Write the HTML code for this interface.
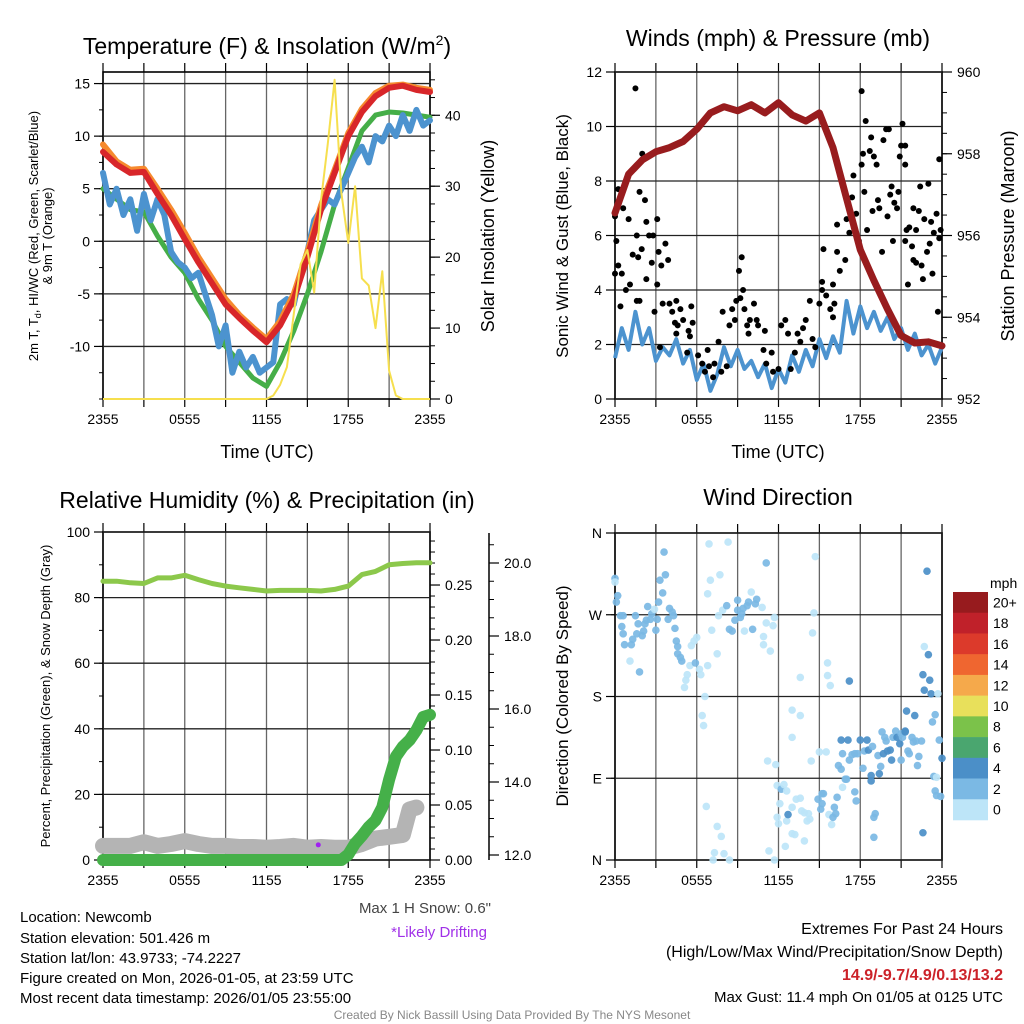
<!DOCTYPE html>
<html><head><meta charset="utf-8">
<style>
html,body{margin:0;padding:0;background:#fff;}
svg{display:block;font-family:"Liberation Sans",Arial,sans-serif;}
</style></head>
<body>
<svg id="fig" width="1024" height="1024" viewBox="0 0 1024 1024" xmlns="http://www.w3.org/2000/svg">
<rect width="1024" height="1024" fill="#fff"/>
<g id="layer"></g>
<text x="267" y="54" font-size="23" text-anchor="middle">Temperature (F) &amp; Insolation (W/m<tspan dy="-9" font-size="14">2</tspan><tspan dy="9">)</tspan></text>
<text x="778" y="46" font-size="23" text-anchor="middle">Winds (mph) &amp; Pressure (mb)</text>
<text x="267" y="508" font-size="23" text-anchor="middle">Relative Humidity (%) &amp; Precipitation (in)</text>
<text x="778" y="505" font-size="23" text-anchor="middle">Wind Direction</text>
<text transform="translate(38,236) rotate(-90)" font-size="13" text-anchor="middle">2m T, T<tspan dy="3" font-size="9">d</tspan><tspan dy="-3">, HI/WC (Red, Green, Scarlet/Blue)</tspan></text>
<text transform="translate(52,236) rotate(-90)" font-size="13" text-anchor="middle">&amp; 9m T (Orange)</text>
<text transform="translate(494,236) rotate(-90)" font-size="18" text-anchor="middle">Solar Insolation (Yellow)</text>
<text transform="translate(568,236) rotate(-90)" font-size="17" text-anchor="middle">Sonic Wind &amp; Gust (Blue, Black)</text>
<text transform="translate(1014,236) rotate(-90)" font-size="18" text-anchor="middle">Station Pressure (Maroon)</text>
<text transform="translate(50,696) rotate(-90)" font-size="13" text-anchor="middle">Percent, Precipitation (Green), &amp; Snow Depth (Gray)</text>
<text transform="translate(568,696) rotate(-90)" font-size="17" text-anchor="middle">Direction (Colored By Speed)</text>
<text x="267" y="458" font-size="18" text-anchor="middle">Time (UTC)</text>
<text x="778" y="458" font-size="18" text-anchor="middle">Time (UTC)</text>
<text x="491" y="913" font-size="15" fill="#444" text-anchor="end">Max 1 H Snow: 0.6"</text>
<text x="487" y="937" font-size="15" fill="#a030e8" text-anchor="end">*Likely Drifting</text>
<g font-size="15">
<text x="20" y="922">Location: Newcomb</text>
<text x="20" y="943">Station elevation: 501.426 m</text>
<text x="20" y="963">Station lat/lon: 43.9733; -74.2227</text>
<text x="20" y="983">Figure created on Mon, 2026-01-05, at 23:59 UTC</text>
<text x="20" y="1003">Most recent data timestamp: 2026/01/05 23:55:00</text>
</g>
<g font-size="16" text-anchor="end">
<text x="1003" y="934">Extremes For Past 24 Hours</text>
<text x="1003" y="957">(High/Low/Max Wind/Precipitation/Snow Depth)</text>
<text x="1003" y="980" fill="#cc2229" font-weight="bold">14.9/-9.7/4.9/0.13/13.2</text>
<text x="1003" y="1002" font-size="15">Max Gust: 11.4 mph On 01/05 at 0125 UTC</text>
</g>
<text x="512" y="1019" font-size="12" fill="#888" text-anchor="middle">Created By Nick Bassill Using Data Provided By The NYS Mesonet</text>
</svg>
<script>
// ---------- data ----------
const xTickLabels = ["2355","0555","1155","1755","2355"];
const hourly = [0,1,2,3,4,5,6,7,8,9,10,11,12,13,14,15,16,17,18,19,20,21,22,23,24];
const tempRed = [8.5,7.3,6.5,6.6,4.5,2.5,0.2,-2,-4,-6,-7.3,-8.5,-9.6,-8,-5.5,-1.5,3,6.5,10,12.3,13.8,14.6,14.8,14.4,14.2];
const tempOrange = [9.2,7.6,6.8,6.9,5,3,0.8,-1.5,-3.5,-5.5,-7,-8.2,-9.3,-7.6,-5,-1,3.4,6.8,10.3,12.6,14.1,14.8,14.9,14.6,14.4];
const tempGreen = [5,4,3,2.8,0.5,-1.5,-3,-5.5,-7.5,-10,-11.5,-13,-13.8,-11.5,-8.5,-5,-1,3.5,7,10.5,12,12.3,12.2,12,11.8];
const halfHourly = [0,0.5,1,1.5,2,2.5,3,3.5,4,4.5,5,5.5,6,6.5,7,7.5,8,8.5,9,9.5,10,10.5,11,11.5,12,12.5,13,13.5,14,14.5,15,15.5,16,16.5,17,17.5,18,18.5,19,19.5,20,20.5,21,21.5,22,22.5,23,23.5,24];
const tempBlue = [6.5,3.5,5,2.5,4,1,4.5,2,4,2.5,-1,-2,-2.5,-3.5,-3,-5,-7,-10,-8,-12.5,-10.5,-12,-11,-12.5,-12,-11.5,-6,-5.5,-6,-3,-1,2,3,4,3.5,5,6.5,8,9,7.5,10,9.5,11,10,12,10.5,12.5,11,11.5];
const insolation = [0,0,0,0,0,0,0,0,0,0,0,0,0,0,0,0,0,0,0,0,0,0,0,0,0,0.5,2,4.5,12,19,21,15,28,36,45,29,22,30,17,16,10,18,4,0.5,0,0,0,0,0];
const tempTicks = [-10,-5,0,5,10,15];
const insolTicks = [0,10,20,30,40];

const pressure = [956.55,957.5,957.85,958.05,958.15,958.3,958.6,959.0,959.15,959.05,959.2,959.0,959.25,958.95,958.8,959.0,958.15,956.9,955.65,954.9,954.2,953.55,953.37,953.4,953.3];
const windSpeed = [1.5,2.6,1.8,3.2,2.0,2.6,1.4,1.9,1.6,2.2,1.3,1.8,0.7,1.3,0.3,0.9,1.9,1.2,1.8,1.1,1.4,0.8,1.3,0.4,1.1,0.6,1.6,1.0,1.8,1.2,2.2,1.5,2.3,1.7,3.6,2.4,3.4,2.6,3.2,2.5,3.0,2.2,2.6,1.8,2.4,1.6,2.0,1.3,1.9];
const gustHour = [1.5,0,0.1,0,0.24,0.5,0.6,0.24,1,0.4,1.1,0.8,1.3,1.6,1.7,1.96,2,1.8,2.2,2.3,2.3,2.5,2.7,2.8,3.1,3.2,3.4,3.7,3.9,3.1,1.6,1.8,2.9,3.3,3.5,4,4.2,4.5,4.8,4.4,4.6,4.5,5,5.6,5.4,5.7,5.5,5.3,6.1,6.4,6.6,6.8,6.9,7.3,7.6,7.2,7.8,7.9,8.2,8.4,8.6,8.8,8.9,9.2,9.4,9.1,9.3,9.5,9.7,9.9,9.8,10.2,10.4,10.5,10.9,11,11.1,11.5,11.6,12,12.2,12.5,12.7,12.9,13.2,13.4,13.6,13.8,14,14.3,14.5,14.7,15,15.2,15.2,15.3,15.5,15.8,16,16.1,16,16.3,16.3,16.5,16.9,17,17.2,17.4,17.5,17.7,17.9,18.1,18.1,18.2,18.3,18.4,18.5,18.7,18.8,18.9,19,19.2,19.3,19.4,19.6,19.7,19.9,20,20.1,20.2,20.3,20.4,20.5,20.7,20.8,20.9,21.1,21,21.3,21.3,21.3,21.4,21.5,21.6,21.8,21.9,21.9,22.1,22.1,22.3,22.4,22.5,22.6,22.7,22.9,23,23.1,23.2,23.3,23.4,23.6,23.7,23.8,23.9,23.8];
const gustSpeed = [11.4,6.7,5.8,4.6,4.9,4.6,7.0,7.7,6.6,3.4,4.2,4.0,5.3,6.0,5.2,5.5,9.0,7.6,7.3,6.5,4.4,6.0,5.0,6.0,6.6,5.4,4.9,5.7,5.1,4.2,3.6,3.6,3.2,1.9,3.5,3.5,3.2,3.6,3.3,2.8,2.7,2.4,2.9,3.4,2.5,2.8,2.3,1.7,1.6,1.3,1.0,1.8,1.2,1.3,2.1,0.8,1.0,3.2,1.2,2.7,3.3,2.9,3.6,3.7,4.0,4.7,5.2,3.3,2.7,2.9,2.4,3.5,2.9,2.7,1.8,2.5,1.3,1.7,1.0,1.1,2.7,2.9,2.4,1.1,1.7,2.4,2.1,2.6,2.9,3.6,2.2,1.9,3.5,4.3,4.0,5.5,3.8,3.3,4.2,3.5,3.0,5.4,6.4,4.7,5.1,6.6,6.1,7.4,8.2,6.8,5.8,8.6,11.3,9.0,7.6,10.2,6.2,9.1,9.6,6.9,8.9,8.6,7.3,7.0,5.4,9.5,9.9,6.7,9.9,7.5,7.8,5.8,7.2,7.0,7.6,8.9,10.1,9.3,9.3,8.6,5.8,6.2,4.2,6.3,5.6,7.0,5.1,6.2,5.0,6.9,7.8,4.9,4.4,6.6,5.4,7.9,5.7,6.5,4.6,6.1,6.8,3.2,8.8,6.2,5.9];
const windTicks = [0,2,4,6,8,10,12];
const pressTicks = [952,954,956,958,960];

const rhValues = [85,85,84.5,84.3,86,86,86.8,85.5,84.3,83.5,83,82.5,82,82.2,82.2,82.2,82,82.5,83.5,87,88,90,90.4,90.6,90.6];
const precip = [0,0,0,0,0,0,0,0,0,0,0,0,0,0,0,0,0,0,0,0,0,0,0,0,0,0,0,0,0,0,0,0,0,0,0,0,0.005,0.015,0.022,0.03,0.036,0.048,0.073,0.094,0.103,0.109,0.118,0.13,0.132];
const snowHour = [0,1,2,3,4,5,6,7,8,9,10,11,12,13,14,15,16,17,18,19,20,21,22,22.5,23];
const snowDepth = [12.25,12.25,12.25,12.35,12.25,12.3,12.38,12.3,12.25,12.25,12.22,12.22,12.2,12.22,12.25,12.2,12.22,12.2,12.2,12.3,12.45,12.5,12.55,13.25,13.3];
const driftHour = [15.8];
const driftDepth = [12.25];
const rhTicks = [0,20,40,60,80,100];
const precipTicks = ["0.00","0.05","0.10","0.15","0.20","0.25"];
const snowTicks = ["12.0","14.0","16.0","18.0","20.0"];

const dirHour = [0.0,0.0,0.2,0.1,0.4,0.6,0.5,0.6,0.7,1.1,1.2,1.3,1.5,1.6,1.8,1.7,2.0,2.1,2.2,2.3,2.4,2.6,2.7,2.9,3.0,3.2,3.1,3.3,3.5,3.7,3.6,3.9,4.0,4.2,4.3,4.4,4.5,4.6,4.6,4.8,4.9,5.1,5.2,5.3,5.5,5.6,5.8,6.0,5.9,6.2,6.3,6.6,6.4,6.5,6.8,6.8,7.0,7.1,7.5,7.7,6.9,8.3,7.6,7.9,8.2,8.4,8.6,8.8,9.0,9.0,9.2,9.3,9.4,9.5,9.7,9.8,10.0,10.1,10.3,10.4,10.8,10.9,10.9,11.1,11.1,11.4,11.6,11.7,6.7,7.5,7.8,7.3,7.2,8.0,8.4,11.2,11.8,11.9,12.2,12.4,12.6,12.1,11.9,12.0,12.6,12.7,13.0,13.0,13.6,13.0,13.3,13.6,13.7,13.9,14.2,14.1,14.3,13.0,13.2,13.9,12.5,11.3,11.7,13.6,14.4,14.7,14.6,14.5,15.0,15.5,14.9,15.2,15.3,15.2,15.1,15.6,15.6,15.8,15.7,15.9,16.0,16.2,16.1,16.3,16.4,16.6,16.7,16.6,16.9,17.0,16.7,17.1,17.2,17.2,17.4,17.6,17.7,17.6,17.8,18.0,18.2,18.3,18.5,18.6,18.8,18.8,18.9,19.0,19.1,19.0,19.4,19.5,19.3,19.6,19.7,19.8,19.9,20.0,20.2,20.3,20.4,20.6,20.7,20.9,21.0,21.0,21.1,21.3,21.3,21.4,21.5,21.6,21.8,21.9,22.0,22.1,22.2,22.3,22.5,22.6,22.6,22.7,22.7,22.9,23.0,23.1,23.2,23.3,23.5,23.4,23.6,23.5,23.6,23.7,23.8,23.9,24.0];
const dirDeg = [310,306,291,284,269,269,257,249,237,219,237,243,269,249,207,260,247,252,260,264,279,265,271,276,253,284,265,308,294,314,339,265,277,273,269,255,241,235,227,223,219,190,198,204,214,236,241,245,217,210,204,180,159,148,214,293,308,253,227,314,348,350,269,275,280,254,252,264,286,275,267,271,277,252,280,284,295,254,282,287,278,246,237,261,327,230,258,267,59,37,26,8,0,7,0,109,105,82,78,83,76,62,47,40,43,50,135,165,159,58,67,68,54,52,51,43,45,29,28,21,15,10,0,201,109,334,272,250,119,119,67,73,73,62,56,217,203,192,50,39,47,51,58,69,104,100,117,132,89,89,80,132,197,110,116,75,65,117,117,132,101,120,132,121,93,87,125,47,51,25,95,103,115,141,117,135,131,120,121,110,135,142,135,128,110,139,135,142,141,164,120,117,135,130,159,131,104,114,131,30,204,235,187,318,226,198,183,152,160,92,91,76,71,183,132,70,112];
const dirSpeed = [3,1,3,3,3,3,3,3,3,1,3,3,3,3,3,3,3,3,3,3,3,3,3,1,3,3,3,3,3,3,3,3,3,3,3,3,3,3,3,3,3,1,1,1,1,1,1,1,3,1,1,1,1,1,1,1,1,1,1,1,1,1,1,1,3,3,3,3,3,3,3,3,3,1,3,3,1,3,3,3,1,1,1,1,3,1,1,1,1,1,1,1,1,1,1,1,1,1,3,1,1,1,1,1,1,5,1,1,1,1,1,1,1,1,1,1,1,1,1,1,1,1,1,1,1,1,1,1,1,1,3,3,3,3,3,1,1,1,1,1,3,3,3,3,3,3,3,5,3,3,1,5,5,3,3,3,3,3,3,5,3,3,5,5,5,5,3,3,3,3,5,3,3,3,5,3,3,5,5,5,3,3,5,5,3,3,3,5,5,5,3,3,3,3,5,3,3,3,3,5,5,1,5,5,5,5,5,3,3,3,1,3,3,1,3,3,5];
const dirLabels = ["N","E","S","W","N"];
const speedLabels = ["20+","18","16","14","12","10","8","6","4","2","0"];
const speedColors = ["#971b1e","#c0212a","#dc3a2b","#ef6630","#f5a94b","#e8e05b","#7bc24a","#4aa66f","#4b8fc8","#7bb9e4","#bde5f8"];

// ---------- helpers ----------
const NS = "http://www.w3.org/2000/svg";
const layer = document.getElementById("layer");
function mk(tag, attrs, parent){
  const e = document.createElementNS(NS, tag);
  for (const k in attrs) e.setAttribute(k, attrs[k]);
  (parent||layer).appendChild(e);
  return e;
}
function lin(d0,d1,r0,r1){ return v => r0 + (v-d0)*(r1-r0)/(d1-d0); }
function pathD(xs, ys, sx, sy){
  let d = "";
  for (let i=0;i<xs.length;i++){ d += (i?"L":"M") + sx(xs[i]).toFixed(1) + "," + sy(ys[i]).toFixed(1); }
  return d;
}

function frame(P, name){
  const g = mk("g", {});
  
  
  for (let h=0; h<=24; h+=3){
    const x = P.sx(h);
    const gl = mk("line", {x1:x,x2:x,y1:P.y0,y2:P.y1,stroke:"#666","stroke-width":1.3}, g);
    
    
    mk("line", {x1:x,x2:x,y1:P.y1,y2:P.y1+8,stroke:"#000","stroke-width":1.2}, g);
    mk("line", {x1:x,x2:x,y1:P.y0,y2:P.y0-9,stroke:"#000","stroke-width":1.2}, g);
  }
  xTickLabels.forEach((lab,i)=>{
    const t = mk("text", {x:P.sx(i*6), y:P.y1+25, "font-size":14, "text-anchor":"middle"}, g);
    t.textContent = lab;
    
    
  });
  mk("rect", {x:P.x0,y:P.y0,width:P.x1-P.x0,height:P.y1-P.y0,fill:"none",stroke:"#000","stroke-width":1.6}, g);
  return g;
}
function leftAxis(P, ticks, labels, sy, minorStep, name, hgrid){
  const g = mk("g", {});
  
  
  const lo = sy.d0, hi = sy.d1;
  for (let v=lo; v<=hi+1e-9; v+=minorStep){
    const y = sy(v);
    if (y < P.y0-0.5 || y > P.y1+0.5) continue;
    mk("line", {x1:P.x0-4,x2:P.x0,y1:y,y2:y,stroke:"#000","stroke-width":1}, g);
  }
  ticks.forEach((v,i)=>{
    const y = sy(v);
    if (hgrid) { const l = mk("line", {x1:P.x0,x2:P.x1,y1:y,y2:y,stroke:"#222","stroke-width":1.3}, g);
        }
    mk("line", {x1:P.x0-9,x2:P.x0,y1:y,y2:y,stroke:"#000","stroke-width":1.2}, g);
    const t = mk("text", {x:P.x0-13, y:y+5, "font-size":14, "text-anchor":"end"}, g);
    t.textContent = labels ? labels[i] : v;
    
    
  });
}
function rightAxis(xa, P, ticks, labels, sy, minorStep, name, lo, hi){
  const g = mk("g", {});
  
  
  for (let v=lo; v<=hi+1e-9; v+=minorStep){
    const y = sy(v);
    if (y < P.y0-0.5 || y > P.y1+0.5) continue;
    mk("line", {x1:xa,x2:xa+5,y1:y,y2:y,stroke:"#000","stroke-width":1}, g);
  }
  ticks.forEach((v,i)=>{
    const y = sy(+v);
    mk("line", {x1:xa,x2:xa+10,y1:y,y2:y,stroke:"#000","stroke-width":1.2}, g);
    const t = mk("text", {x:xa+15, y:y+5, "font-size":14}, g);
    t.textContent = labels ? labels[i] : v;
    
    
  });
}
function scaleY(d0,d1,r0,r1){ const f = lin(d0,d1,r0,r1); f.d0=d0; f.d1=d1; return f; }

// ---------- panel 1: temperature ----------
const P1 = {x0:103,x1:430,y0:72,y1:399};
P1.sx = lin(0,24,P1.x0,P1.x1);
const t1 = scaleY(-15,16.1,399,72);
const ins1 = scaleY(0,46.1,399,72);
frame(P1, "temperature");
leftAxis(P1, tempTicks, null, t1, 2.5, "temperature-y-axis", true);
rightAxis(P1.x1, P1, insolTicks, null, ins1, 2.5, "insolation-y-axis", 0, 45);
[[tempGreen,"#45ae48",5,"dewpoint-line",hourly],[tempBlue,"#4c93cf",6,"wind-chill-line",halfHourly],[tempOrange,"#f68a2e",6,"temp-9m-line",hourly],[tempRed,"#d8262a",6,"temp-2m-line",hourly]].forEach(s=>{
  const p = mk("path", {d:pathD(s[4], s[0], P1.sx, t1), fill:"none", stroke:s[1], "stroke-width":s[2], "stroke-linejoin":"round", "stroke-linecap":"round"});
  
  
});
const yl = mk("path", {d:pathD(halfHourly, insolation, P1.sx, ins1), fill:"none", stroke:"#f6df4e", "stroke-width":2, "stroke-linejoin":"round"});



// ---------- panel 2: winds ----------
const P2 = {x0:615,x1:942,y0:72,y1:399};
P2.sx = lin(0,24,P2.x0,P2.x1);
const w2 = scaleY(0,12,399,72);
const p2 = scaleY(952,960,399,72);
frame(P2, "winds");
leftAxis(P2, windTicks, null, w2, 12, "wind-y-axis", true);
rightAxis(P2.x1, P2, pressTicks, null, p2, 0.5, "pressure-y-axis", 952, 960);
const wl = mk("path", {d:pathD(halfHourly, windSpeed, P2.sx, w2), fill:"none", stroke:"#4c93cf", "stroke-width":4, "stroke-linejoin":"round"});


gustHour.forEach((h,i)=>{
  const c = mk("circle", {cx:P2.sx(h), cy:w2(gustSpeed[i]), r:3, fill:"#000"});
  
  
});
const pl = mk("path", {d:pathD(hourly, pressure, P2.sx, p2), fill:"none", stroke:"#981c1e", "stroke-width":7, "stroke-linejoin":"round", "stroke-linecap":"round"});



// ---------- panel 3: humidity ----------
const P3 = {x0:103,x1:430,y0:532,y1:860};
P3.sx = lin(0,24,P3.x0,P3.x1);
const rh3 = scaleY(0,100,860,532);
const pr3 = scaleY(0,0.2982,860,532);
const sn3 = scaleY(12,20,855,563);
frame(P3, "humidity");
leftAxis(P3, rhTicks, null, rh3, 10, "humidity-y-axis", true);
rightAxis(P3.x1, P3, precipTicks, null, pr3, 0.01, "precip-y-axis", 0, 0.29);
const sAxis = mk("line", {x1:489,x2:489,y1:533,y2:860,stroke:"#000","stroke-width":1.5});


rightAxis(489, {y0:533,y1:860}, snowTicks, null, sn3, 0.5, "snow-y-axis", 12, 20.5);
const sl = mk("path", {d:pathD(snowHour, snowDepth, P3.sx, sn3), fill:"none", stroke:"#b4b4b4", "stroke-width":16, "stroke-linejoin":"round", "stroke-linecap":"round"});


const pcl = mk("path", {d:pathD(halfHourly, precip, P3.sx, pr3), fill:"none", stroke:"#45b049", "stroke-width":12, "stroke-linejoin":"round", "stroke-linecap":"round"});


const rl = mk("path", {d:pathD(hourly, rhValues, P3.sx, rh3), fill:"none", stroke:"#8cc84b", "stroke-width":5, "stroke-linejoin":"round", "stroke-linecap":"round"});


driftHour.forEach((h,i)=>{
  const c = mk("circle", {cx:P3.sx(h), cy:sn3(driftDepth[i])-1, r:2.5, fill:"#a020f0"});
  
  
});

// ---------- panel 4: wind direction ----------
const P4 = {x0:615,x1:942,y0:533,y1:860};
P4.sx = lin(0,24,P4.x0,P4.x1);
const d4 = scaleY(0,360,860,533);
frame(P4, "direction");
leftAxis(P4, [0,90,180,270,360], dirLabels, d4, 90, "direction-y-axis", true);
function speedColor(s){ const idx = Math.min(10, Math.floor(s/2)); return speedColors[10-idx]; }
dirHour.forEach((h,i)=>{
  const c = mk("circle", {cx:P4.sx(h), cy:d4(dirDeg[i]), r:3.8, fill:speedColor(dirSpeed[i]), "fill-opacity":0.92});
  
  
});
// colorbar
const cb = mk("g", {});


const cbh = 228/speedColors.length;
speedColors.forEach((col,i)=>{
  const r = mk("rect", {x:953, y:592+i*cbh, width:35, height:cbh+0.3, fill:col}, cb);
  
  
  const t = mk("text", {x:993, y:592+i*cbh+cbh/2+5, "font-size":14}, cb);
  t.textContent = speedLabels[i];
  
  
});
const mph = mk("text", {x:990, y:588, "font-size":14}, cb);
mph.textContent = "mph";


</script>
</body></html>
